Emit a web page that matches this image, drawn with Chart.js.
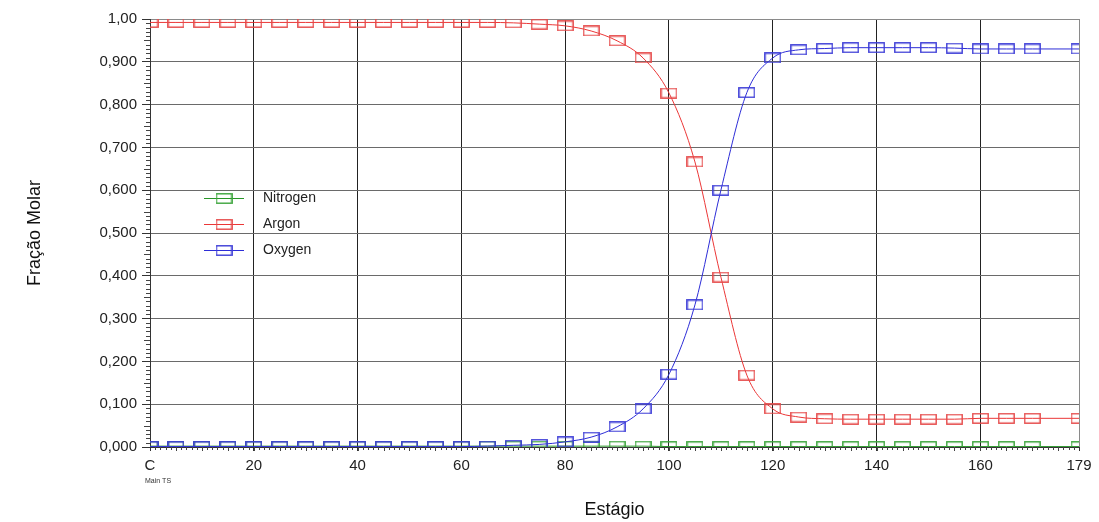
<!DOCTYPE html>
<html><head><meta charset="utf-8">
<script src="https://cdn.jsdelivr.net/npm/chart.js@4.4.0/dist/chart.umd.min.js"></script>
<style>html,body{margin:0;padding:0;background:#fff;}#wrap{width:1099px;height:522px;position:relative;}</style>
</head><body><div id="wrap"><canvas id="c" width="1099" height="522"></canvas></div>
<script>
const stages   = [0,5,10,15,20,25,30,35,40,45,50,55,60,65,70,75,80,85,90,95,100,105,110,115,120,125,130,135,140,145,150,155,160,165,170,179];
const nitrogen = [0.002,0.002,0.002,0.002,0.002,0.002,0.002,0.002,0.002,0.002,0.002,0.002,0.002,0.002,0.002,0.002,0.002,0.002,0.002,0.002,0.001,0.001,0.001,0.001,0.001,0.001,0.001,0.001,0.001,0.001,0.001,0.001,0.001,0.001,0.001,0.001];
const argon    = [0.992,0.992,0.992,0.992,0.992,0.992,0.992,0.992,0.992,0.992,0.992,0.992,0.992,0.992,0.991,0.988,0.984,0.972,0.949,0.909,0.827,0.666,0.397,0.168,0.089,0.070,0.066,0.065,0.065,0.065,0.065,0.065,0.067,0.067,0.067,0.067];
const oxygen   = [0.001,0.001,0.001,0.001,0.001,0.001,0.001,0.001,0.001,0.001,0.001,0.001,0.001,0.002,0.004,0.006,0.012,0.023,0.047,0.089,0.170,0.332,0.600,0.828,0.909,0.928,0.931,0.933,0.933,0.933,0.933,0.932,0.930,0.930,0.930,0.930];
const seriesNames = ['Nitrogen','Argon','Oxygen'];
const yTickValues = [0,0.1,0.2,0.3,0.4,0.5,0.6,0.7,0.8,0.9,1.0];
const xTickValues = [0,20,40,60,80,100,120,140,160,179];
const xTickLabels = ['C','20','40','60','80','100','120','140','160','179'];

const FONT = "'Liberation Sans', Arial, Helvetica, sans-serif";
const lineCols = ['rgb(40,150,40)','rgb(235,55,55)','rgb(45,45,215)'];
const markCols = ['rgb(60,165,60)','rgb(230,75,75)','rgb(60,60,215)'];

function makeMarker(col){
  const c = document.createElement('canvas');
  c.width = 17; c.height = 11;
  const g = c.getContext('2d');
  g.strokeStyle = col; g.lineWidth = 1.4;
  g.strokeRect(0.8,0.8,15.4,9.4);
  return c;
}
const markers = markCols.map(makeMarker);

function toXY(xs, ys){ return xs.map((x,i)=>({x:x, y:ys[i]})); }
const seriesData = [nitrogen, argon, oxygen];

const decoPlugin = {
  id:'deco',
  beforeDatasetsDraw(chart){
    const {ctx, chartArea:a, scales:{x, y}} = chart;
    ctx.save();
    ctx.strokeStyle = '#444'; ctx.lineWidth = 1;
    for (let k=0;k<=100;k++){
      if (k%10===0) continue;
      const py = Math.round(y.getPixelForValue(k/100))+0.5;
      const len = (k%5===0) ? 6 : 4;
      ctx.beginPath(); ctx.moveTo(a.left-len, py); ctx.lineTo(a.left, py); ctx.stroke();
    }
    for (let s=1;s<179;s++){
      const px = Math.round(x.getPixelForValue(s))+0.5;
      const len = (s%5===0) ? 4 : 3;
      ctx.beginPath(); ctx.moveTo(px, a.bottom); ctx.lineTo(px, a.bottom+len); ctx.stroke();
    }
    ctx.restore();
  },
  afterDraw(chart){
    const {ctx, scales:{x}} = chart;
    ctx.save();
    ctx.fillStyle = '#333';
    ctx.font = '7px ' + FONT;
    ctx.textAlign = 'left'; ctx.textBaseline = 'middle';
    ctx.fillText('Main TS', x.getPixelForValue(0)-5, 481);
    const ys = [198,224,250];
    ctx.font = '14px ' + FONT;
    ctx.textBaseline = 'middle';
    seriesNames.forEach((name,i)=>{
      const yy = ys[i]+0.5;
      ctx.strokeStyle = lineCols[i]; ctx.lineWidth = 1;
      ctx.beginPath(); ctx.moveTo(204, yy); ctx.lineTo(244, yy); ctx.stroke();
      ctx.drawImage(markers[i], 224-8.5, ys[i]-5);
      ctx.fillStyle = '#222';
      ctx.fillText(name, 263, ys[i]);
    });
    ctx.restore();
  }
};

new Chart(document.getElementById('c'), {
  type:'line',
  data:{
    datasets: seriesNames.map((name,i)=>({
      label:name,
      data: toXY(stages, seriesData[i]),
      borderColor: lineCols[i],
      borderWidth: 1,
      pointStyle: markers[i],
      pointRadius: 8,
      pointHoverRadius: 8,
      cubicInterpolationMode: 'monotone',
      fill:false,
      order: 2-i
    }))
  },
  options:{
    responsive:false,
    animation:false,
    events:[],
    layout:{padding:{top:19,right:20,left:0,bottom:0}},
    plugins:{legend:{display:false}, tooltip:{enabled:false}, title:{display:false}},
    scales:{
      x:{
        type:'linear', min:0, max:179,
        afterFit(s){ s.height = 75; },
        afterBuildTicks(s){ s.ticks = xTickValues.map(v=>({value:v})); },
        ticks:{
          autoSkip:false, maxRotation:0, padding:6,
          color:'#222', font:{family:FONT, size:15},
          callback:(v,i)=>xTickLabels[i]
        },
        grid:{
          color:(c)=> (c.tick && c.tick.value===179) ? '#8a8a8a' : '#222',
          lineWidth:1, tickLength:4, tickColor:'#333'
        },
        border:{color:'#333', width:1},
        title:{display:true, text:'Estágio', color:'#111', font:{family:FONT, size:18}, padding:{top:0,bottom:1}}
      },
      y:{
        min:0, max:1,
        afterFit(s){ s.width = 150; },
        afterBuildTicks(s){ s.ticks = yTickValues.map(v=>({value:v})); },
        ticks:{
          padding:5, color:'#222', font:{family:FONT, size:15},
          callback:(v)=> Math.abs(v-1)<1e-9 ? '1,00' : v.toFixed(3).replace('.', ',')
        },
        grid:{
          color:(c)=> (c.tick && Math.abs(c.tick.value-1)<1e-9) ? '#8a8a8a' : '#6a6a6a',
          lineWidth:1, tickLength:8, tickColor:'#333'
        },
        border:{color:'#333', width:1},
        title:{display:true, text:'Fração Molar', color:'#111', font:{family:FONT, size:18}, padding:{top:24,bottom:0}}
      }
    }
  },
  plugins:[decoPlugin]
});
</script>
</body></html>
